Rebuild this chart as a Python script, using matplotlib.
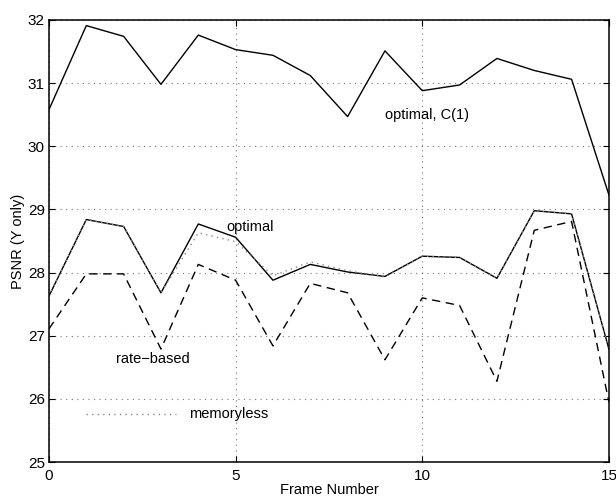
import matplotlib
matplotlib.use("Agg")
import matplotlib.pyplot as plt
import numpy as np

plt.rcParams['font.family'] = ['Liberation Sans', 'DejaVu Sans']

frames = np.arange(16)

optimal_c1 = [30.58, 31.91, 31.74, 30.98, 31.76, 31.53, 31.44, 31.12,
              30.47, 31.51, 30.88, 30.97, 31.39, 31.20, 31.06, 29.23]
optimal = [27.63, 28.84, 28.73, 27.68, 28.77, 28.56, 27.88, 28.13,
           28.01, 27.94, 28.26, 28.24, 27.91, 28.98, 28.93, 26.79]
rate_based = [27.11, 27.98, 27.98, 26.79, 28.13, 27.88, 26.84, 27.83,
              27.68, 26.62, 27.60, 27.48, 26.28, 28.67, 28.81, 25.95]
memoryless = [27.63, 28.84, 28.73, 27.68, 28.63, 28.49, 27.95, 28.17,
              28.03, 27.93, 28.26, 28.24, 27.91, 28.98, 28.93, 26.79]

fig = plt.figure(figsize=(6.16, 4.98), dpi=100)
ax = fig.add_axes([0.0795, 0.072, 0.909, 0.888])

ax.plot(frames, optimal_c1, color='black', lw=1.0)
ax.plot(frames, optimal, color='black', lw=1.0)
ax.plot(frames, rate_based, color='black', lw=1.0, dashes=(6, 4))
ax.plot(frames, memoryless, color='#888888', lw=1.0, dashes=(1, 3))

# legend-like line for memoryless
ax.plot([1.0, 3.4], [25.76, 25.76], color='#888888', lw=1.0, dashes=(1, 3))

fs = 10.5
ax.text(3.75, 25.76, 'memoryless', fontsize=fs, va='center', ha='left')
ax.text(1.8, 26.63, 'rate\u2212based', fontsize=fs, va='center', ha='left')
ax.text(4.76, 28.72, 'optimal', fontsize=fs, va='center', ha='left')
ax.text(9.0, 30.49, 'optimal, C(1)', fontsize=fs, va='center', ha='left')

ax.set_xlim(0, 15)
ax.set_ylim(25, 32)
ax.set_xticks([0, 5, 10, 15])
ax.set_yticks(range(25, 33))
ax.grid(True, color='#777777', linestyle=(0, (1, 4)), lw=0.8)
ax.tick_params(direction='in', top=True, right=True, labelsize=11, length=4, pad=3)
ax.tick_params(axis='x', pad=5)
for sp in ax.spines.values():
    sp.set_linewidth(1.1)

ax.set_xlabel('Frame Number', fontsize=10.5, labelpad=0)
ax.set_ylabel('PSNR (Y only)', fontsize=10.5, labelpad=2)

fig.savefig('out.png', dpi=100)
